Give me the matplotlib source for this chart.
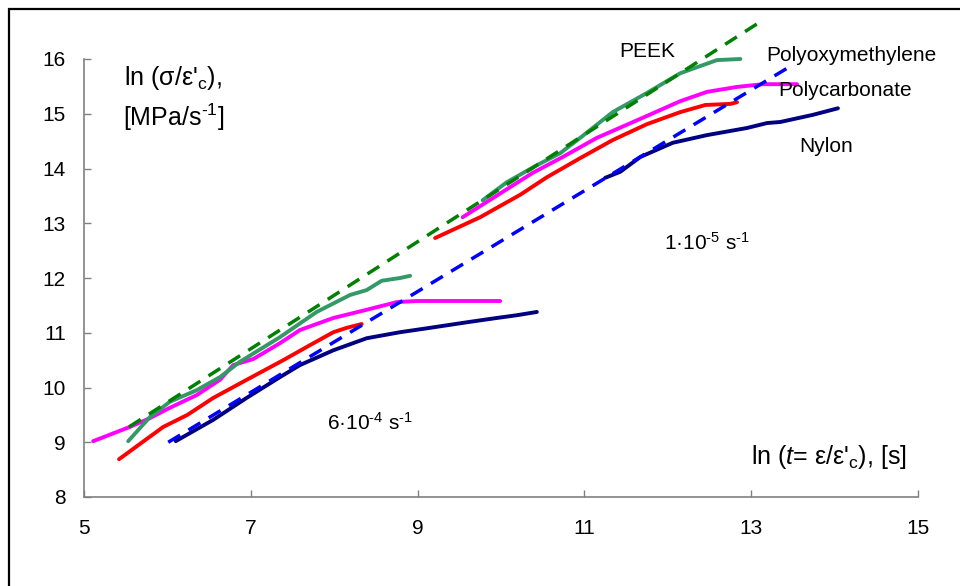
import matplotlib
matplotlib.use("Agg")
import matplotlib.pyplot as plt
from matplotlib.patches import Rectangle

plt.rcParams["font.family"] = ["Liberation Sans", "DejaVu Sans"]
plt.rcParams["mathtext.fontset"] = "custom"
plt.rcParams["mathtext.rm"] = "Liberation Sans"
plt.rcParams["mathtext.it"] = "Liberation Sans:italic"

# 6e-4 1/s curves
pc_lo_x = [5.11, 5.55, 5.79, 6.03, 6.35, 6.63, 6.79, 7.03, 7.35, 7.59, 7.99, 8.39, 8.75, 8.99, 9.99]
pc_lo_y = [9.02, 9.28, 9.44, 9.63, 9.86, 10.14, 10.41, 10.52, 10.81, 11.05, 11.27, 11.42, 11.56, 11.58, 11.58]
pom_lo_x = [5.53, 5.79, 6.03, 6.35, 6.63, 6.87, 7.35, 7.79, 8.19, 8.39, 8.57, 8.79, 8.91]
pom_lo_y = [9.02, 9.46, 9.74, 9.95, 10.19, 10.47, 10.92, 11.38, 11.69, 11.78, 11.95, 12.0, 12.04]
red_lo_x = [5.42, 5.95, 6.24, 6.55, 6.95, 7.39, 7.67, 7.99, 8.15, 8.33]
red_lo_y = [8.69, 9.28, 9.50, 9.81, 10.14, 10.50, 10.74, 11.01, 11.09, 11.16]
nylon_lo_x = [6.10, 6.55, 6.95, 7.35, 7.59, 7.99, 8.39, 8.79, 9.15, 9.63, 9.95, 10.19, 10.43]
nylon_lo_y = [9.02, 9.41, 9.81, 10.19, 10.41, 10.68, 10.90, 11.01, 11.09, 11.20, 11.27, 11.32, 11.38]

# 1e-5 1/s curves
pom_hi_x = [9.78, 10.07, 10.43, 10.71, 10.95, 11.34, 11.75, 12.15, 12.35, 12.59, 12.87]
pom_hi_y = [13.42, 13.75, 14.06, 14.28, 14.56, 15.03, 15.38, 15.74, 15.85, 15.98, 16.0]
pc_hi_x = [9.54, 9.83, 10.11, 10.38, 10.74, 11.15, 11.75, 12.15, 12.47, 12.83, 13.14, 13.55]
pc_hi_y = [13.11, 13.39, 13.66, 13.92, 14.21, 14.56, 14.96, 15.23, 15.40, 15.49, 15.54, 15.54]
red_hi_x = [9.21, 9.75, 10.23, 10.55, 10.95, 11.34, 11.75, 12.15, 12.45, 12.75, 12.83]
red_hi_y = [12.73, 13.11, 13.52, 13.84, 14.19, 14.52, 14.81, 15.03, 15.16, 15.18, 15.21]
nylon_hi_x = [11.25, 11.43, 11.67, 12.06, 12.47, 12.95, 13.19, 13.35, 13.74, 14.04]
nylon_hi_y = [13.83, 13.94, 14.21, 14.47, 14.61, 14.74, 14.83, 14.85, 14.98, 15.10]

# fitted straight lines
fit_green_x = [5.54, 13.14]
fit_green_y = [9.28, 16.71]
fit_blue_x = [6.01, 13.44]
fit_blue_y = [9.0, 15.84]

fig = plt.figure(figsize=(9.6, 5.86), dpi=100)
fig.patches.append(Rectangle((9 / 960, -0.1), 1.2, 1.1 - 9 / 586, transform=fig.transFigure,
                             fill=False, edgecolor="black", linewidth=1.6))
ax = fig.add_axes([84 / 960, 1 - 497 / 586, 834 / 960, 438 / 586])

solid = dict(lw=2.8, solid_capstyle="round", clip_on=False)
ax.plot(pc_lo_x, pc_lo_y, color="#ff00ff", **solid)
ax.plot(pc_hi_x, pc_hi_y, color="#ff00ff", **solid)
ax.plot(pom_lo_x, pom_lo_y, color="#339966", **solid)
ax.plot(pom_hi_x, pom_hi_y, color="#339966", **solid)
ax.plot(red_lo_x, red_lo_y, color="#ff0000", **solid)
ax.plot(red_hi_x, red_hi_y, color="#ff0000", **solid)
ax.plot(nylon_lo_x, nylon_lo_y, color="#000080", **solid)
ax.plot(nylon_hi_x, nylon_hi_y, color="#000080", **solid)

ax.plot(fit_green_x, fit_green_y, color="#008000", lw=2.5, dashes=(4, 2.8), clip_on=False)
ax.plot(fit_blue_x, fit_blue_y, color="#0000ff", lw=2.5, dashes=(4, 2.8), clip_on=False)

ax.set_xlim(5, 15)
ax.set_ylim(8, 16)
ax.set_xticks([5, 7, 9, 11, 13, 15])
ax.set_yticks(range(8, 17))
for s in ["top", "right"]:
    ax.spines[s].set_visible(False)
for s in ["left", "bottom"]:
    ax.spines[s].set_color("#808080")
    ax.spines[s].set_linewidth(1.2)
ax.tick_params(axis="both", direction="in", length=5, width=1, color="#808080", labelsize=15)
ax.tick_params(axis="y", pad=13)
ax.tick_params(axis="x", pad=16)

hy = "\u2010"
ax.text(6.07, 15.65, "ln (σ/ε'$_\\mathrm{c}$),", fontsize=18, ha="center", va="center")
ax.text(6.07, 14.94, "[MPa/s$^{" + hy + "1}$]", fontsize=18, ha="center", va="center")
ax.text(13.93, 8.73, "ln ($\\mathit{t}$= ε/ε'$_\\mathrm{c}$), [s]", fontsize=18, ha="center", va="center")
ax.text(11.75, 16.13, "PEEK", fontsize=15, ha="center", va="center")
ax.text(14.2, 16.07, "Polyoxymethylene", fontsize=15, ha="center", va="center")
ax.text(14.12, 15.43, "Polycarbonate", fontsize=15, ha="center", va="center")
ax.text(13.9, 14.41, "Nylon", fontsize=15, ha="center", va="center")
ax.text(12.47, 12.64, "1·10$^{" + hy + "5}$ s$^{" + hy + "1}$", fontsize=15, ha="center", va="center")
ax.text(8.43, 9.35, "6·10$^{" + hy + "4}$ s$^{" + hy + "1}$", fontsize=15, ha="center", va="center")

fig.savefig("out.png", dpi=100)
